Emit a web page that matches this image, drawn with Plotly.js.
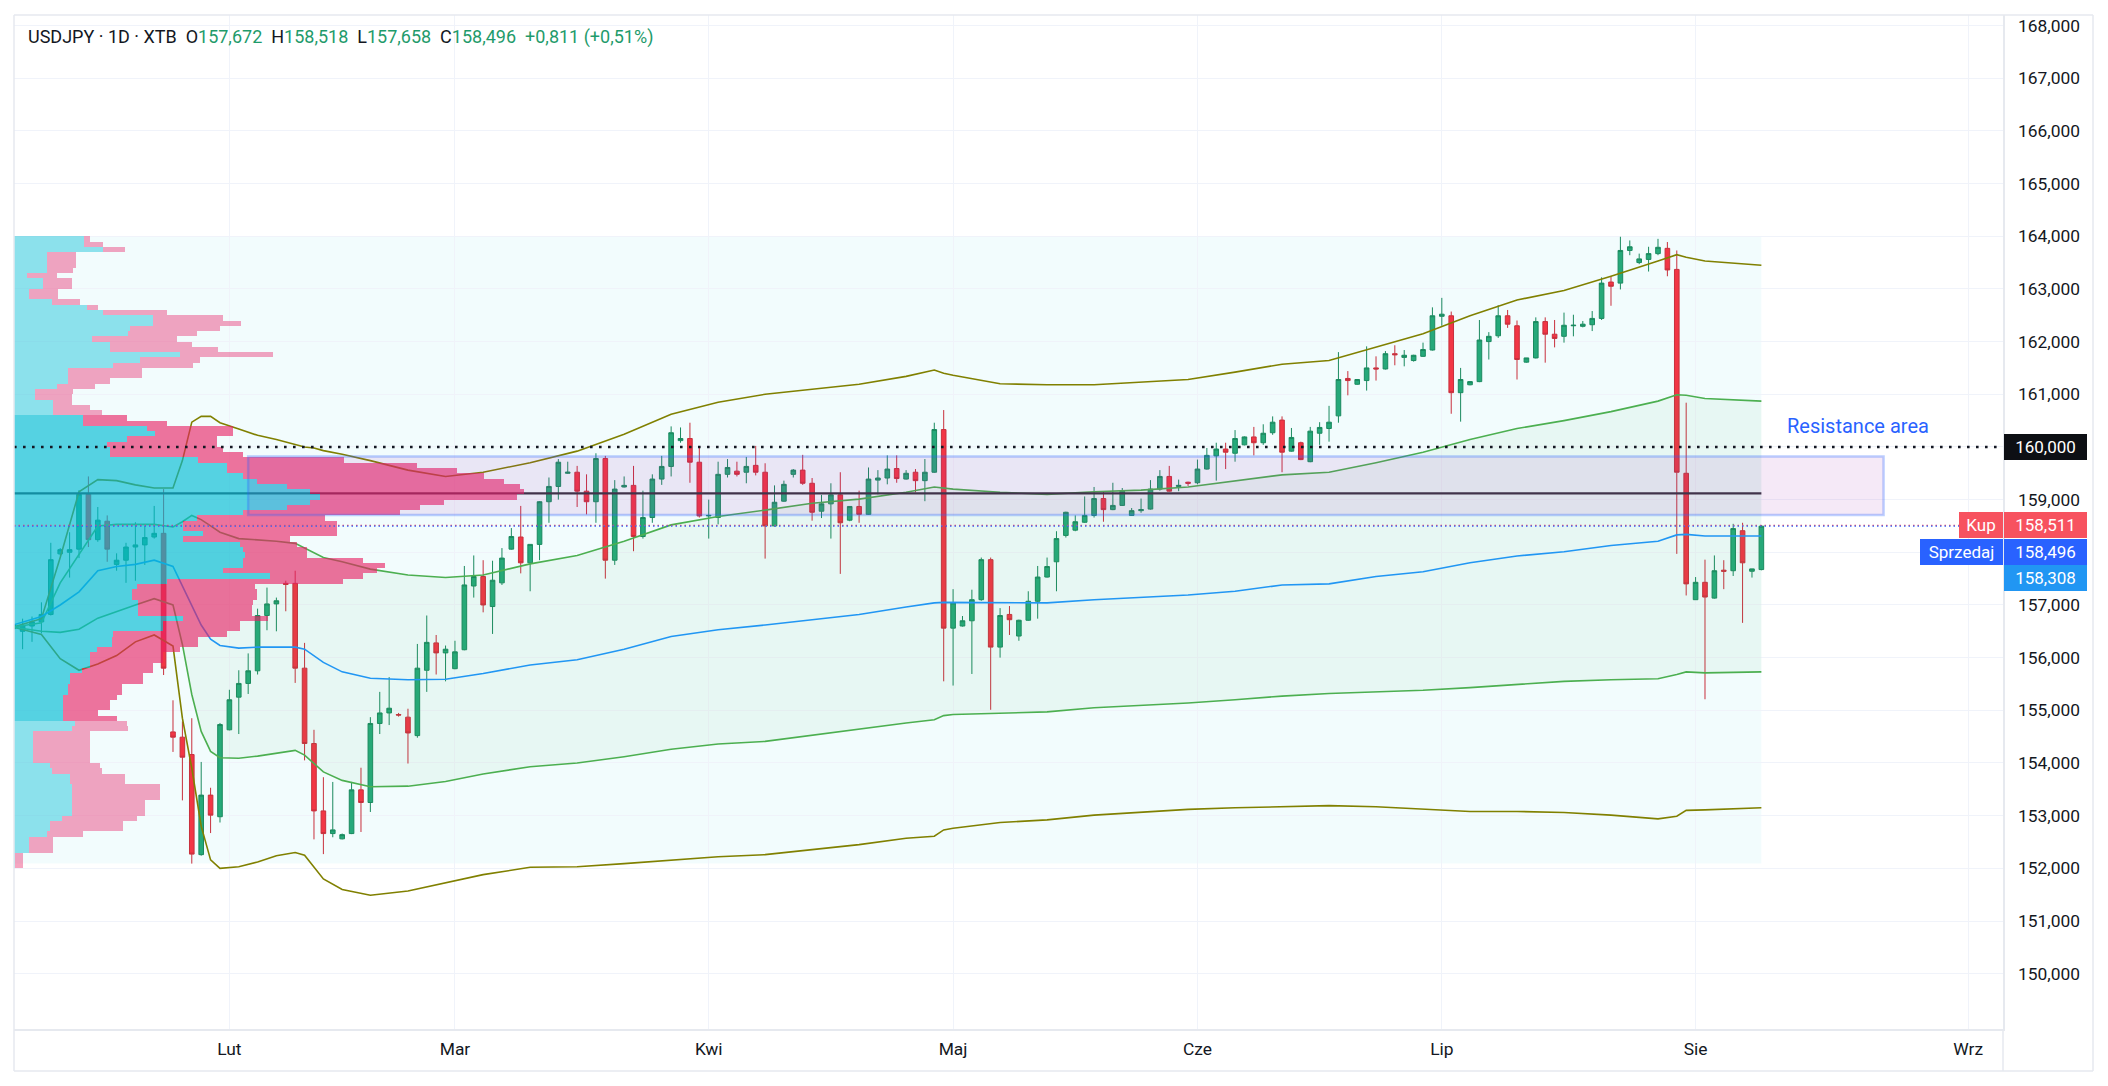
<!DOCTYPE html>
<html>
<head>
<meta charset="utf-8">
<script src="https://cdn.plot.ly/plotly-3.0.1.min.js"></script>
<style>html,body{margin:0;padding:0;background:#fff}#chart{width:2108px;height:1086px}</style>
</head>
<body>
<div id="chart"></div>
<script>
// ---------- DATA ----------
const symbolLabel = 'USDJPY · 1D · XTB';
const firstSession = '2026-01-05';   // sessions run Sun–Fri (no Saturday bars)

const open = [156.55,156.50,156.60,156.68,156.82,157.97,158.00,158.06,159.10,158.24,158.59,157.77,157.85,158.10,158.14,158.29,158.36,154.59,154.49,154.16,152.26,153.39,152.98,
154.63,155.25,155.51,155.75,156.80,157.02,157.41,157.41,155.80,154.37,153.09,152.66,152.56,152.66,153.49,153.25,154.75,154.95,154.92,154.87,154.52,155.76,156.28,156.09,
155.79,156.15,157.36,157.54,156.97,157.42,158.06,158.29,157.80,158.15,158.96,159.25,159.50,159.52,159.16,158.96,159.78,157.85,159.24,159.27,158.30,158.66,159.39,159.63,160.12,160.16,159.71,
158.69,158.66,159.48,159.54,159.52,159.65,159.52,158.50,158.97,159.48,159.56,159.31,158.78,158.92,159.09,158.61,158.87,158.72,159.37,159.41,159.59,159.39,159.52,159.36,159.52,160.33,
156.56,156.60,156.70,157.10,157.86,156.20,156.82,156.41,156.71,157.07,157.53,157.82,158.32,158.42,158.57,158.70,159.02,158.81,158.89,158.70,158.79,158.82,159.20,159.44,159.25,159.33,
159.32,159.58,159.83,159.96,159.88,160.04,160.19,160.08,160.27,160.51,159.92,160.08,159.72,160.26,160.35,160.59,161.30,161.19,161.26,161.50,161.48,161.77,161.70,161.64,161.72,161.84,
162.48,162.49,161.03,161.18,161.24,162.00,162.11,162.49,162.30,161.61,161.69,162.38,162.14,162.10,162.30,162.29,162.32,162.44,163.13,163.11,163.73,163.50,163.56,163.67,163.77,163.37,159.50,
157.10,157.43,157.13,157.66,157.65,158.41,157.64,157.672];

const high = [156.74,156.74,156.78,157.05,158.18,158.08,158.38,159.18,159.44,158.86,158.70,157.98,158.18,158.57,158.50,158.88,159.20,155.19,154.79,154.85,154.02,153.53,154.76,
155.39,155.76,156.08,156.93,157.33,157.14,157.46,157.65,156.28,154.63,153.73,153.64,152.66,153.64,153.91,154.87,155.35,155.63,154.95,155.03,156.26,156.80,156.43,156.23,
156.32,157.74,157.94,157.85,157.84,158.08,158.46,158.88,158.15,158.97,159.42,159.77,159.72,159.64,159.48,159.88,159.83,159.37,159.44,159.64,159.17,159.48,159.83,160.39,160.37,160.46,159.98,
159.00,159.72,159.77,159.72,159.81,160.02,159.69,159.27,159.36,159.58,159.85,159.41,159.09,159.31,159.52,158.87,159.17,159.61,159.56,159.84,159.84,159.56,159.58,159.77,160.46,160.70,
157.30,156.79,157.29,157.90,157.90,156.94,156.98,156.72,157.26,157.74,157.90,158.40,158.77,158.70,159.06,159.24,159.16,159.32,159.22,158.84,159.02,159.37,159.56,159.64,159.38,159.34,
159.76,159.98,160.08,160.08,160.32,160.20,160.38,160.43,160.58,160.58,160.36,160.10,160.38,160.47,160.78,161.80,161.44,161.29,161.91,161.72,161.82,161.93,161.84,161.75,161.98,162.65,
162.83,162.57,161.50,161.25,162.41,162.18,162.69,162.60,162.40,161.69,162.46,162.46,162.41,162.55,162.51,162.39,162.58,163.22,163.24,163.99,163.92,163.67,163.80,163.95,163.89,163.73,160.84,
157.53,157.86,157.94,157.85,158.54,158.56,157.68,158.518];

const low = [156.50,156.16,156.30,156.46,156.80,157.94,157.52,157.89,158.10,158.20,157.82,157.65,157.42,157.46,157.76,158.26,155.67,154.21,153.29,152.09,152.24,152.67,152.87,
154.62,154.55,155.31,155.68,156.52,156.50,156.88,155.52,154.05,152.55,152.27,152.59,152.55,152.65,152.69,153.07,154.55,154.72,154.88,153.99,154.48,155.35,155.68,155.55,
155.78,156.14,157.14,156.86,156.45,157.38,158.05,157.60,157.26,157.85,158.56,159.00,159.49,158.86,158.72,158.56,157.50,157.76,159.23,158.02,158.26,158.56,159.28,159.44,160.08,159.32,158.66,
158.26,158.53,159.42,159.44,159.31,159.46,157.88,158.49,158.96,159.42,159.28,158.60,158.65,158.26,157.59,158.59,158.56,158.71,159.10,159.29,159.32,159.38,159.14,158.97,159.51,155.55,
155.47,156.59,155.69,157.08,155.01,156.00,156.43,156.32,156.70,156.74,157.52,157.26,158.28,158.40,158.56,158.66,158.58,158.80,158.88,158.69,158.75,158.81,159.17,159.15,159.16,159.26,
159.29,159.57,159.36,159.58,159.72,160.03,159.84,160.04,160.23,159.52,159.91,159.75,159.71,160.04,160.10,160.46,160.98,161.18,161.07,161.26,161.47,161.55,161.53,161.62,161.71,161.83,
162.30,160.63,160.48,161.17,161.23,161.66,162.07,162.26,161.28,161.60,161.68,161.60,161.89,161.98,162.10,162.27,162.20,162.41,162.68,162.99,163.64,163.47,163.33,163.64,163.24,157.97,157.18,
157.10,155.21,157.12,157.30,157.55,156.66,157.52,157.658];

const close = [156.62,156.60,156.68,156.82,157.86,158.05,158.05,159.10,158.24,158.61,158.06,157.85,158.10,158.14,158.28,158.36,155.80,154.49,154.11,152.27,153.39,153.01,154.73,
155.20,155.51,155.75,156.80,157.02,157.08,157.39,155.80,154.37,153.09,152.66,152.73,152.64,153.49,153.25,154.75,154.95,155.04,154.91,154.57,155.80,156.29,156.09,156.16,
156.11,157.38,157.54,157.00,157.47,157.89,158.30,157.80,158.15,158.96,159.25,159.71,159.52,159.16,158.96,159.78,157.85,159.20,159.27,158.30,158.66,159.39,159.63,160.27,160.16,159.71,158.69,
158.70,159.48,159.61,159.48,159.63,159.52,158.50,158.95,159.29,159.56,159.31,158.76,158.92,159.09,158.56,158.87,158.72,159.39,159.41,159.58,159.40,159.50,159.36,159.52,160.33,156.56,
157.04,156.70,157.10,157.86,156.20,156.80,156.72,156.71,157.07,157.53,157.73,158.26,158.76,158.58,158.70,159.02,158.81,158.89,159.16,158.79,158.81,159.20,159.44,159.16,159.27,159.31,
159.58,159.84,159.96,159.90,160.16,160.19,160.08,160.26,160.47,159.90,160.18,159.76,160.30,160.37,160.47,161.28,161.26,161.28,161.50,161.48,161.77,161.75,161.74,161.74,161.85,162.49,
162.52,161.03,161.28,161.24,162.03,162.10,162.49,162.33,161.66,161.69,162.38,162.14,162.06,162.31,162.31,162.33,162.44,163.11,163.05,163.73,163.80,163.57,163.67,163.79,163.36,159.52,157.40,
157.43,157.15,157.65,157.64,158.45,157.80,157.685,158.496];

// Anchored VWAP and its bands, read at these bar numbers
const bandIdx = [0,3,5,7,9,11,13,15,17,18,19,20,21,22,24,26,28,30,31,32,33,35,38,42,46,50,55,60,65,70,75,80,85,90,95,98,99,100,105,110,115,120,125,130,135,140,145,150,155,160,165,170,175,177,178,180,186];
const upper2 = [156.58,156.74,157.90,159.15,159.38,159.36,159.28,159.22,159.22,159.74,160.47,160.58,160.58,160.46,160.34,160.22,160.14,160.05,160.00,159.98,159.93,159.86,159.74,159.56,159.44,159.52,159.70,159.92,160.24,160.62,160.85,161.00,161.10,161.19,161.34,161.46,161.40,161.36,161.20,161.18,161.18,161.23,161.28,161.42,161.57,161.64,161.90,162.15,162.49,162.79,162.97,163.24,163.53,163.65,163.60,163.53,163.45];
const upper1 = [156.58,156.66,157.42,157.95,158.50,158.53,158.53,158.53,158.48,158.58,158.70,158.62,158.50,158.38,158.26,158.24,158.21,158.17,158.08,158.00,157.90,157.82,157.68,157.57,157.52,157.57,157.78,157.94,158.21,158.52,158.68,158.80,158.93,159.01,159.14,159.24,159.22,159.20,159.14,159.10,159.15,159.18,159.24,159.36,159.47,159.52,159.70,159.90,160.14,160.35,160.50,160.67,160.87,160.99,160.98,160.92,160.87];
const vwap   = [156.62,156.78,157.00,157.25,157.65,157.73,157.77,157.85,157.73,157.35,157.00,156.62,156.35,156.23,156.18,156.20,156.20,156.20,156.16,156.03,155.91,155.73,155.61,155.58,155.59,155.70,155.86,155.96,156.16,156.40,156.53,156.62,156.72,156.82,156.96,157.04,157.05,157.05,157.04,157.04,157.10,157.14,157.19,157.26,157.38,157.40,157.54,157.63,157.80,157.93,158.01,158.13,158.21,158.33,158.34,158.31,158.308];
const lower1 = [156.58,156.50,156.48,156.54,156.75,156.88,157.00,157.12,157.00,156.25,155.30,154.60,154.22,154.10,154.09,154.13,154.19,154.24,154.15,153.99,153.83,153.67,153.55,153.56,153.65,153.79,153.93,154.00,154.12,154.26,154.36,154.41,154.53,154.64,154.76,154.82,154.90,154.92,154.95,154.97,155.05,155.09,155.14,155.20,155.27,155.32,155.35,155.38,155.43,155.49,155.55,155.58,155.60,155.68,155.73,155.71,155.73];
const lower2 = [156.58,156.44,155.98,155.76,155.88,156.04,156.30,156.43,156.22,154.85,153.90,152.80,152.16,152.00,152.03,152.12,152.24,152.30,152.25,152.02,151.80,151.60,151.49,151.57,151.73,151.88,152.02,152.03,152.09,152.15,152.22,152.26,152.35,152.45,152.57,152.61,152.73,152.76,152.87,152.92,153.01,153.06,153.12,153.15,153.17,153.19,153.17,153.13,153.08,153.08,153.06,153.01,152.94,152.99,153.10,153.11,153.15];

// Fixed-range volume profile: rows of 0.1 from the top (163.95) down, up / down volume
const profileTopRow = 163.95;
const profileRow = 0.1;
const profileUp = [70,70,89,33,33,33,33,13,29,29, 15,15,38,73,89,139,139,116,114,78, 96,96,166,126,99,54,54,54,43,21,
 21,39,39,39,69,69,133,141,113,93, 96,96,184,213,213,229,243,273,296,306, 296,273,229,183,169,169,189,169,226,229,
 231,229,229,209,256,153,123,118,118,124, 124,124,169,149,149,99,98,98,83,76, 76,76,68,56,56,54,54,49,49,49,
 49,49,61,58,19,19,19,19,19,19, 36,38,56,56,58,58,58,58,58,58, 48,36,36,33,15,15,15,1,1,1];
const profileDown = [6,19,22,29,29,29,26,30,29,29, 29,29,28,11,64,70,88,90,69,85, 82,108,93,60,80,74,74,42,38,38,
 37,19,37,49,44,84,86,78,90,110, 113,133,146,190,230,241,247,233,214,197, 134,133,157,128,154,154,134,107,57,64,
 62,120,142,154,93,176,118,125,125,115, 114,114,85,77,77,114,86,86,83,73, 73,63,71,73,73,54,54,54,47,47,
 35,54,52,56,57,57,57,57,57,57, 50,50,55,55,88,88,88,73,73,73, 75,73,73,36,24,24,24,8,8,8];
const poc = 159.12, vaHigh = 160.58, vaLow = 154.79;

// Drawings and quotes
const levelLine = 160.0;
const ask = 158.511, bid = 158.496;
const resistanceDates = ['2026-02-03', '2026-08-23'];
const resistancePrices = [158.71, 159.82];
const resistanceText = 'Resistance area';
const resistanceTextAt = ['2026-08-20 07:00', 160.39];

// Axes
const monthTicks = ['2026-02-01','2026-03-01','2026-04-01','2026-05-01','2026-06-01','2026-07-01','2026-08-02','2026-09-01'];
const monthLabels = ['Lut','Mar','Kwi','Maj','Cze','Lip','Sie','Wrz'];
const priceTicks = [150,151,152,153,154,155,156,157,158,159,160,161,162,163,164,165,166,167,168];
const coveredTicks = [158, 160];   // tick labels hidden behind the price labels
const viewRange = ['2026-01-05 02:00', '2026-09-04 17:00'];
const priceRange = [148.95, 168.2];

// ---------- BUILD ----------
const DAY = 86400000;
function sessions(start, n) {
  const out = []; let t = Date.parse(start + 'T00:00:00Z');
  while (out.length < n) { const d = new Date(t); if (d.getUTCDay() !== 6) out.push(d.toISOString().slice(0, 10)); t += DAY; }
  return out;
}
const dates = sessions(firstSession, open.length);
const gaps = [];
for (let i = 1; i < dates.length; i++) {
  let t = Date.parse(dates[i - 1] + 'T00:00:00Z') + DAY;
  const end = Date.parse(dates[i] + 'T00:00:00Z');
  while (t < end) { gaps.push(new Date(t).toISOString().slice(0, 10)); t += DAY; }
}
const bandX = bandIdx.map(i => dates[i]);
const rows = profileUp.map((_, i) => +(profileTopRow - i * profileRow).toFixed(2));
const inVA = rows.map(p => p >= vaLow && p <= vaHigh);
const fmt = v => v.toFixed(3).replace('.', ',');
const priceTickText = priceTicks.map(v => coveredTicks.includes(v) ? '' : fmt(v));
const n = close.length;
const chg = close[n - 1] - close[n - 2];
const pct = chg / close[n - 2] * 100;
const green = '#1f9b6b', dark = '#131722';
const sp = '\u00a0\u00a0';
const g = s => '<span style="color:' + green + '">' + s + '</span>';
const titleText = symbolLabel + sp + 'O' + g(fmt(open[n-1])) + sp + 'H' + g(fmt(high[n-1])) + sp + 'L' + g(fmt(low[n-1])) + sp + 'C' + g(fmt(close[n-1])) + sp +
  g((chg >= 0 ? '+' : '') + chg.toFixed(3).replace('.', ',') + ' (' + (chg >= 0 ? '+' : '') + pct.toFixed(2).replace('.', ',') + '%)');

const font = 'Roboto, "Noto Sans", sans-serif';
const lowest = Math.min(...low), highest = Math.max(...high);

const traces = [
  {type:'scatter', mode:'lines', x:bandX, y:lower1, line:{width:0}, hoverinfo:'skip'},
  {type:'scatter', mode:'lines', x:bandX, y:upper1, line:{width:0}, fill:'tonexty', fillcolor:'rgba(76,175,80,0.06)', hoverinfo:'skip'},
  {type:'candlestick', x:dates, open:open, high:high, low:low, close:close, hoverinfo:'skip',
   increasing:{line:{color:'#1a8a5f', width:1}, fillcolor:'#26a97a'},
   decreasing:{line:{color:'#c8303d', width:1}, fillcolor:'#f23645'}},
  {type:'scatter', mode:'lines', x:bandX, y:upper2, line:{color:'#808000', width:1.6}, hoverinfo:'skip'},
  {type:'scatter', mode:'lines', x:bandX, y:lower2, line:{color:'#808000', width:1.6}, hoverinfo:'skip'},
  {type:'scatter', mode:'lines', x:bandX, y:upper1, line:{color:'#4caf50', width:1.6}, hoverinfo:'skip'},
  {type:'scatter', mode:'lines', x:bandX, y:lower1, line:{color:'#4caf50', width:1.6}, hoverinfo:'skip'},
  {type:'scatter', mode:'lines', x:bandX, y:vwap, line:{color:'#2196f3', width:1.6}, hoverinfo:'skip'},
  {type:'scatter', mode:'lines', x:[dates[0], dates[n-1]], y:[poc, poc], line:{color:'#37343f', width:2.2}, hoverinfo:'skip'},
  {type:'bar', orientation:'h', xaxis:'x2', yaxis:'y', y:rows, x:profileUp, width:profileRow, hoverinfo:'skip',
   marker:{color:inVA.map(v => v ? 'rgba(0,188,212,0.65)' : 'rgba(0,188,212,0.42)'), line:{width:0}}},
  {type:'bar', orientation:'h', xaxis:'x2', yaxis:'y', y:rows, x:profileDown, width:profileRow, hoverinfo:'skip',
   marker:{color:inVA.map(v => v ? 'rgba(233,30,99,0.62)' : 'rgba(233,30,99,0.40)'), line:{width:0}}}
];

const frame = '#e6e9ef';
const xR = 1 + 90 / 1989, yB = -42 / 1014;
const shapes = [
  {type:'rect', layer:'below', xref:'x', yref:'y', x0:dates[0], x1:dates[n-1], y0:lowest, y1:highest, fillcolor:'rgba(0,188,212,0.05)', line:{width:0}},
  {type:'rect', layer:'above', xref:'x', yref:'y', x0:resistanceDates[0], x1:resistanceDates[1], y0:resistancePrices[0], y1:resistancePrices[1],
   fillcolor:'rgba(156,39,176,0.10)', line:{color:'rgba(41,98,255,0.30)', width:2.5}},
  {type:'line', layer:'above', xref:'paper', yref:'y', x0:0, x1:1, y0:levelLine, y1:levelLine, line:{color:dark, width:2.6, dash:'2.6px,6.4px'}},
  {type:'line', layer:'above', xref:'paper', yref:'y', x0:0, x1:1, y0:ask, y1:ask, line:{color:'#f7525f', width:1.2, dash:'1.5px,3px'}},
  {type:'line', layer:'above', xref:'paper', yref:'y', x0:0, x1:1, y0:bid, y1:bid, line:{color:'#2962ff', width:1.2, dash:'1.5px,3px'}},
  // chart frame
  {type:'line', xref:'paper', yref:'paper', x0:0, x1:xR, y0:1, y1:1, line:{color:frame, width:1.5}},
  {type:'line', xref:'paper', yref:'paper', x0:0, x1:xR, y0:yB, y1:yB, line:{color:frame, width:1.5}},
  {type:'line', xref:'paper', yref:'paper', x0:0, x1:0, y0:yB, y1:1, line:{color:frame, width:1.5}},
  {type:'line', xref:'paper', yref:'paper', x0:xR, x1:xR, y0:yB, y1:1, line:{color:frame, width:1.5}},
  {type:'line', xref:'paper', yref:'paper', x0:1, x1:1, y0:yB, y1:0, line:{color:frame, width:1.5}}
];

const lab = (text, y, bg, opts) => Object.assign({
  xref:'paper', yref:'y', x:1, y:y, xanchor:'left', yanchor:'middle', showarrow:false, text:text,
  font:{family:font, size:17, color:'#ffffff'}, bgcolor:bg, borderpad:3, borderwidth:0, width:77, height:20, align:'center'
}, opts || {});
const annotations = [
  lab(fmt(levelLine), levelLine, '#0d0f14', {xshift:1}),
  lab('Kup', ask, '#f7525f', {xanchor:'right', width:38}),
  lab(fmt(ask), ask, '#f7525f', {xshift:1}),
  lab('Sprzedaj', bid, '#2962ff', {xanchor:'right', yshift:-26}),
  lab(fmt(bid), bid, '#2962ff', {xshift:1, yshift:-26}),
  lab(fmt(vwap[vwap.length - 1]), vwap[vwap.length - 1], '#2196f3', {xshift:1, yshift:-41.5}),
  {xref:'x', yref:'y', x:resistanceTextAt[0], y:resistanceTextAt[1], text:resistanceText, showarrow:false,
   xanchor:'center', yanchor:'middle', font:{family:font, size:20, color:'#2962ff'}}
];

const tickFont = {family:font, size:17.4, color:dark};
const layout = {
  width:2108, height:1086,
  margin:{l:14, r:105, t:15, b:57, pad:0},
  paper_bgcolor:'#ffffff', plot_bgcolor:'#ffffff',
  separators:',.', showlegend:false, hovermode:false,
  barmode:'stack', bargap:0,
  title:{text:titleText, xref:'container', yref:'container', x:28/2108, y:1 - 37/1086, xanchor:'left', yanchor:'middle',
         font:{family:font, size:18, color:dark}},
  xaxis:{type:'date', range:viewRange, rangebreaks:[{values:gaps, dvalue:DAY}], rangeslider:{visible:false},
         tickmode:'array', tickvals:monthTicks, ticktext:monthLabels, ticks:'', ticklabelstandoff:4, tickfont:tickFont,
         showgrid:true, gridcolor:'#f0f3fa', gridwidth:1, showline:true, linecolor:frame, linewidth:1.5, zeroline:false, fixedrange:true},
  xaxis2:{overlaying:'x', anchor:'y', range:[0, 1989], visible:false, fixedrange:true},
  yaxis:{side:'right', range:priceRange, tickmode:'array', tickvals:priceTicks, ticktext:priceTickText, ticks:'', ticklabelstandoff:10, tickfont:tickFont,
         showgrid:true, gridcolor:'#f0f3fa', gridwidth:1, showline:true, linecolor:frame, linewidth:1.5, zeroline:false, fixedrange:true},
  shapes:shapes, annotations:annotations
};

Plotly.newPlot('chart', traces, layout, {displayModeBar:false, staticPlot:true});
</script>
</body>
</html>
